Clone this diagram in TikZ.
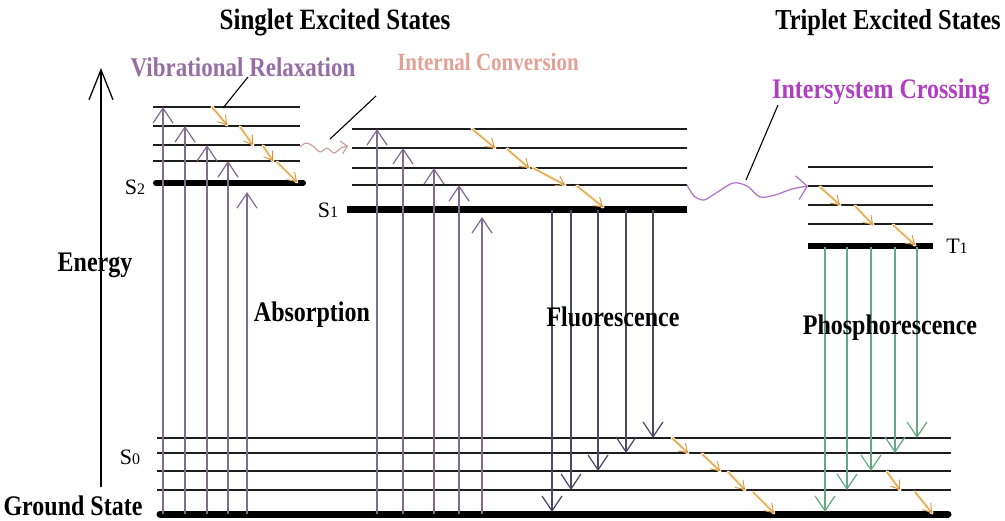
\documentclass[tikz,border=0pt]{standalone}
\usepackage{fontspec}
\setmainfont{Liberation Serif}
\usepackage{graphicx}
\usetikzlibrary{arrows.meta}
\definecolor{abscol}{RGB}{128,108,142}
\definecolor{flucol}{RGB}{72,74,102}
\definecolor{phocol}{RGB}{100,168,132}
\definecolor{vrcol}{RGB}{212,148,62}
\definecolor{vrglow}{RGB}{252,234,196}
\definecolor{iccol}{RGB}{200,155,155}
\definecolor{isccol}{RGB}{172,112,200}
\definecolor{vrtext}{RGB}{150,110,165}
\definecolor{ictext}{RGB}{226,160,150}
\definecolor{isctext}{RGB}{176,62,192}
\definecolor{levelcol}{RGB}{30,30,30}
\newcommand\tallt[1]{\scalebox{1}[1.18]{#1}}
\begin{document}
\begin{tikzpicture}[x=1pt,y=-1pt,
  level/.style={levelcol,line width=1.5pt},
  thicklevel/.style={black,line width=7pt,line cap=round},
  bigbarb/.style={-{Straight Barb[length=15pt,width=20pt]}},
  absarrow/.style={abscol,line width=1.2pt,bigbarb},
  fluarrow/.style={flucol,line width=1.2pt,bigbarb},
  phoarrow/.style={phocol,line width=1.2pt,bigbarb},
  vrglowline/.style={vrglow,line width=3.5pt,line cap=round},
  vrarrow/.style={vrcol,line width=0.9pt,-{Straight Barb[length=8pt,width=11pt]}},
  leader/.style={black,line width=1.1pt},
  lbl/.style={font=\fontsize{24}{28}\selectfont\bfseries,inner sep=0pt},
  statelbl/.style={font=\fontsize{22}{24}\selectfont,inner sep=0pt}
]
\fill[white] (0,0) rectangle (1005,520);
\useasboundingbox (0,0) rectangle (1005,520);

% ---------- titles ----------
\node[lbl,font=\fontsize{25}{28}\selectfont\bfseries] (tsing) at (335,23) {\tallt{Singlet Excited States}};
\node[lbl,font=\fontsize{24.5}{28}\selectfont\bfseries] (ttrip) at (888,23) {\tallt{Triplet Excited States}};
\node[lbl,font=\fontsize{23}{26}\selectfont\bfseries,text=vrtext] (tvr) at (243,67) {\tallt{Vibrational Relaxation}};
\node[lbl,font=\fontsize{21}{24}\selectfont\bfseries,text=ictext] (tic) at (488,62) {\tallt{Internal Conversion}};
\node[lbl,font=\fontsize{24}{26}\selectfont\bfseries,text=isctext] (tisc) at (881,92) {\tallt{Intersystem Crossing}};

% ---------- energy axis ----------
\coordinate (ebot) at (101,487);
\coordinate (etop) at (101,68);
\draw[black,line width=1.3pt,-{Straight Barb[length=30pt,width=24pt]}] (ebot) -- (etop);
\node[lbl] (energy) at (95,265) {\tallt{Energy}};
\node[lbl] (ground) at (73,506) {\tallt{Ground State}};

% ---------- levels ----------
% S2
\foreach \y in {107,126,145,161} \draw[level] (153,\y) -- (300,\y);
\draw[thicklevel,line width=6pt] (156,183) -- (303,183);
\node[statelbl] (s2) at (135,187) {S{\fontsize{16}{16}\selectfont 2}};
% S1
\foreach \y in {129,148,168,185} \draw[level] (352,\y) -- (687,\y);
\draw[thicklevel,line cap=butt] (347,209) -- (687,209);
\node[statelbl] (s1) at (328,210) {S{\fontsize{16}{16}\selectfont 1}};
% T1
\foreach \y in {167,186,205,224} \draw[level] (808,\y) -- (933,\y);
\draw[thicklevel,line width=6pt,line cap=butt] (808,246) -- (933,246);
\node[statelbl] (t1) at (957,246) {T{\fontsize{16}{16}\selectfont 1}};
% S0 / ground
\foreach \y in {438,453,471,490} \draw[level] (157,\y) -- (951,\y);
\draw[thicklevel] (160,514) -- (948,514);
\node[statelbl] (s0) at (130,457) {S{\fontsize{16}{16}\selectfont 0}};

% ---------- absorption ----------
\foreach \x/\y [count=\i] in {163/107,185/126,207/145,228/161,247/192,377/129,403/148,434/168,459/185,482/217}{
  \coordinate (ab\i s) at (\x,514);
  \coordinate (ab\i e) at (\x,\y);
  \draw[absarrow] (ab\i s) -- (ab\i e);
}
% ---------- fluorescence ----------
\foreach \x/\y [count=\i] in {552/512,571/490,598/471,626/453,653/438}{
  \coordinate (fl\i s) at (\x,210);
  \coordinate (fl\i e) at (\x,\y);
  \draw[fluarrow] (fl\i s) -- (fl\i e);
}
% ---------- phosphorescence ----------
\foreach \x/\y [count=\i] in {825/512,847/490,871/471,895/453,917/438}{
  \coordinate (ph\i s) at (\x,247);
  \coordinate (ph\i e) at (\x,\y);
  \draw[phoarrow] (ph\i s) -- (ph\i e);
}

% ---------- vibrational relaxation ----------
\foreach \ax/\ay/\bx/\by [count=\i] in {
  212/107/227/125, 240/127/253/145, 263/146/273/161, 277/162/297/182,
  472/129/495/148, 507/149/529/168, 533/168/565/185, 577/186/603/207,
  820/187/840/205, 855/206/873/225, 893/225/915/245,
  672/438/688/453, 702/454/720/471, 728/472/745/490, 753/492/774/513,
  887/472/900/490, 915/492/932/513}{
  \coordinate (vr\i s) at (\ax,\ay);
  \coordinate (vr\i e) at (\bx,\by);
  \draw[vrglowline] (vr\i s) -- (vr\i e);
  \draw[vrarrow] (vr\i s) -- (vr\i e);
}

% ---------- internal conversion ----------
\coordinate (ics) at (300,147);
\coordinate (ice) at (348,146);
\draw[iccol,line width=1.1pt,-{Straight Barb[length=6pt,width=13pt]}]
  plot[smooth] coordinates {(ics) (306,143) (313,146) (320,152) (327,148) (334,153) (341,148) (ice)};

% ---------- intersystem crossing ----------
\coordinate (iscs) at (687,185);
\coordinate (isce) at (808,186);
\draw[isccol,line width=1.2pt,-{Straight Barb[length=10pt,width=24pt]}]
  plot[smooth] coordinates {(iscs) (694,196) (704,200) (716,193) (733,183) (747,186) (760,197) (775,195) (792,189) (isce)};

% ---------- leader lines ----------
\coordinate (lvra) at (248,77);
\coordinate (lvrb) at (223,108);
\draw[leader] (lvra) -- (lvrb);
\coordinate (lica) at (376,96);
\coordinate (licb) at (330,139);
\draw[leader] (lica) -- (licb);
\coordinate (lisca) at (778,105);
\coordinate (liscb) at (746,180);
\draw[leader] (lisca) -- (liscb);

% ---------- process labels ----------
\node[lbl] (absl) at (312,315) {\tallt{Absorption}};
\node[lbl] (flul) at (613,317) {\tallt{Fluorescence}};
\node[lbl] (phol) at (890,328) {\tallt{Phosphorescence}};
\end{tikzpicture}
\end{document}
